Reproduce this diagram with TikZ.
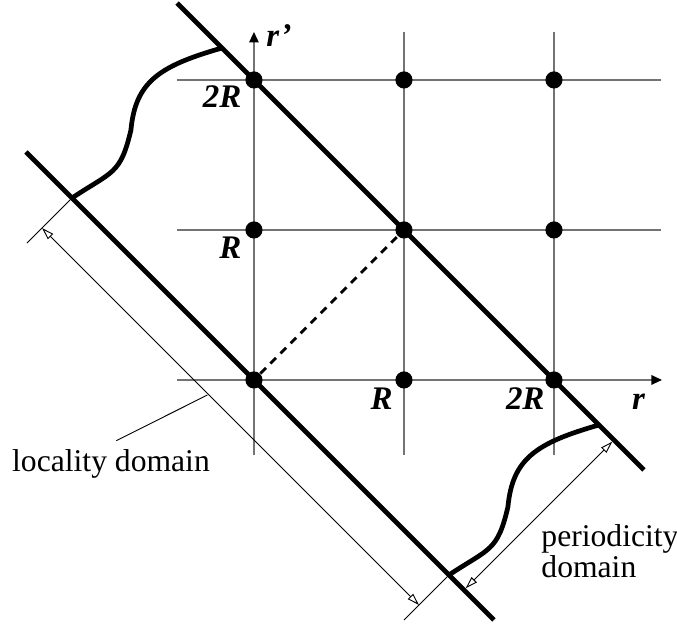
\documentclass[tikz,border=0pt]{standalone}
\usepackage{fontspec}
\setmainfont{Liberation Serif}
\usetikzlibrary{arrows.meta}

\begin{document}
\begin{tikzpicture}[x=2cm, y=2cm,
grid/.style={draw=black!55, line width=0.6pt},
axis/.style={grid, -{Triangle[color=black, length=4pt, width=3.6pt]}},
border/.style={line width=1.8pt},
dim/.style={line width=0.35pt},
dimarrow/.style={dim, {Triangle[open, length=4.6pt, width=2.8pt]}-{Triangle[open, length=4.6pt, width=2.8pt]}},
dot/.style={circle, fill=black, inner sep=0pt, minimum size=6.5pt},
lbl/.style={font=\fontsize{12.5}{14}\selectfont\bfseries\itshape, inner sep=0pt}]
\tikzstyle{every node}=[font=\fontsize{12}{10.6}\selectfont]
\useasboundingbox (-1.693,-1.667) rectangle (2.82,2.533);

% grid and axes
\draw[grid] (-0.513,2) -- (2.713,2);
\draw[grid] (-0.513,1) -- (2.713,1);
\draw[axis] (-0.513,0) -- (2.72,0);
\draw[axis] (0,-0.5) -- (0,2.32);
\draw[grid] (1,-0.5) -- (1,2.32);
\draw[grid] (2,-0.5) -- (2,2.32);

% lattice points
\node[dot] (d00) at (0,0) {};
\node[dot] (d10) at (1,0) {};
\node[dot] (d20) at (2,0) {};
\node[dot] (d01) at (0,1) {};
\node[dot] (d11) at (1,1) {};
\node[dot] (d21) at (2,1) {};
\node[dot] (d02) at (0,2) {};
\node[dot] (d12) at (1,2) {};
\node[dot] (d22) at (2,2) {};

\node[lbl, anchor=base west] (rp) at (0.08,2.22) {r'};
\node[lbl, anchor=base east] (y2) at (-0.08,1.813) {2R};
\node[lbl, anchor=base east] (y1) at (-0.08,0.813) {R};
\node[lbl, anchor=base east] (x1) at (0.927,-0.2) {R};
\node[lbl, anchor=base east] (x2) at (1.94,-0.2) {2R};
\node[lbl, anchor=base east] (rr) at (2.61,-0.2) {r};

\draw[line width=1.1pt, dash pattern=on 3pt off 2.4pt] (d00) -- (d11);

% domain borders
\coordinate (t1) at (-0.513,2.513);
\coordinate (t2) at (2.6,-0.6);
\coordinate (b1) at (-1.52,1.52);
\coordinate (b2) at (1.6,-1.6);
\draw[border] (t1) -- (t2);
\draw[border] (b1) -- (b2);

\coordinate (A) at (-0.213,2.213);
\coordinate (M) at (-0.82,1.667);
\coordinate (B) at (-1.213,1.213);
\coordinate (A') at (2.3,-0.3);
\coordinate (M') at (1.693,-0.846);
\coordinate (B') at (1.3,-1.3);
\draw[border] (A) .. controls +(-0.42,-0.12) and +(0.03,0.32) .. (M)
  .. controls +(-0.07,-0.3) and +(0.27,0.18) .. (B);
\draw[border] (A') .. controls +(-0.42,-0.12) and +(0.03,0.32) .. (M')
  .. controls +(-0.07,-0.3) and +(0.27,0.18) .. (B');

% dimensions
\coordinate (E1) at (-1.513,0.913);
\coordinate (E2) at (1.0,-1.6);
\coordinate (L1) at (-1.413,1.013);
\coordinate (L2) at (1.1,-1.5);
\coordinate (P1) at (1.4,-1.4);
\coordinate (P2) at (2.4,-0.4);
\draw[dim] (B) -- (E1);
\draw[dim] (B') -- (E2);
\draw[dimarrow] (L1) -- (L2);
\draw[dimarrow, shorten <=0.9pt, shorten >=0.9pt] (P1) -- (P2);

\coordinate (lk) at (-0.31,-0.1);
\node[inner sep=0pt] (loc) at (-0.953,-0.557) {locality domain};
\draw[dim] (lk) -- ([xshift=2pt,yshift=3pt]loc.north);
\node[inner sep=0pt, anchor=west, align=left] (per) at (1.913,-1.143) {periodicity\\domain};
\end{tikzpicture}
\end{document}
